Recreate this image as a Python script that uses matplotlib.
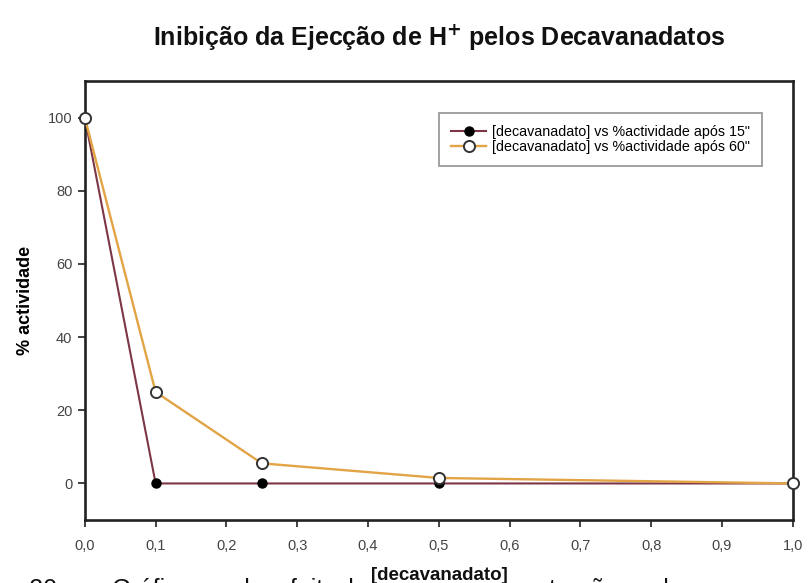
import numpy as np
import matplotlib.pyplot as plt

plt.rcParams['font.family'] = ['Liberation Sans', 'DejaVu Sans']

conc = [0.0, 0.1, 0.25, 0.5, 1.0]
act_15 = [100, 0, 0, 0, 0]
act_60 = [100, 25, 5.5, 1.5, 0]

xticks = np.arange(0, 1.01, 0.1)
yticks = [0, 20, 40, 60, 80, 100]

# caption of the source page (cut by the bottom edge), split around the x label
caption_left = [('ra 20', 0), ('–', 80), ('Gráfico', 112), ('do', 236), ('efeito', 276), ('de', 340)]
caption_right = [('ntração', 535), ('de', 655), ('uma', 712), ('solução', 782)]

fig = plt.figure(figsize=(8.08, 5.83), dpi=100)
ax = fig.add_axes([0.105, 0.108, 0.876, 0.753])

ax.plot(conc, act_15, color='#7d3646', lw=1.5, marker='o', ms=6.5,
        mfc='black', mec='black', label='[decavanadato] vs %actividade após 15"')
ax.plot(conc, act_60, color='#e2a444', lw=1.7, marker='o', ms=8,
        mfc='white', mec='#333333', mew=1.4, label='[decavanadato] vs %actividade após 60"',
        clip_on=False, zorder=3)

ax.set_xlim(0, 1.0)
ax.set_ylim(-10, 110)
ax.set_xticks(xticks)
ax.set_xticklabels([f'{t:.1f}'.replace('.', ',') for t in xticks], fontsize=10.5, color='#444444')
ax.set_yticks(yticks)
ax.set_yticklabels([str(t) for t in yticks], fontsize=10.5, color='#444444')
ax.tick_params(direction='out', length=5, width=1.3, color='#333333')
ax.tick_params(axis='x', pad=9)
ax.tick_params(axis='y', pad=4)
for s in ax.spines.values():
    s.set_linewidth(1.9)
    s.set_color('#222222')

ax.set_ylabel('% actividade', fontsize=13, fontweight='bold', labelpad=10)
ax.set_title('Inibição da Ejecção de H$^{\\mathbf{+}}$ pelos Decavanadatos',
             fontsize=18, fontweight='bold', color='#111111', pad=26)

leg = ax.legend(loc='upper right', bbox_to_anchor=(0.956, 0.927), borderaxespad=0,
                fontsize=10.3, frameon=True, fancybox=False, edgecolor='#8a8a8a',
                handlelength=2.5, handletextpad=0.4, borderpad=0.8, labelspacing=0.12)
leg.get_frame().set_linewidth(1.4)

for word, px in caption_left + caption_right:
    fig.text(px / 808, -0.024, word, fontsize=18, ha='left', va='baseline', color='#111111')

fig.text(439 / 808, 0.005, '[decavanadato]', fontsize=13.5, fontweight='bold',
         ha='center', va='baseline', color='#111111')

fig.savefig('out.png', dpi=100)
